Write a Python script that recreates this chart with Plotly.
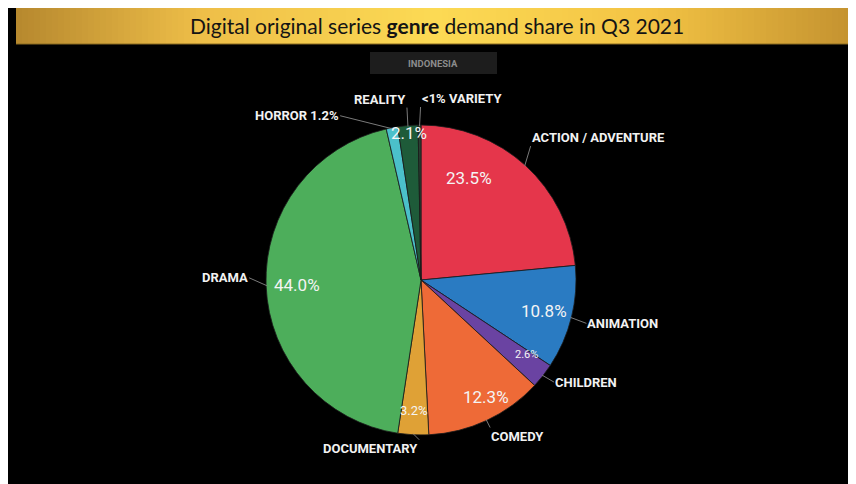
import plotly.graph_objects as go
import math

# ---------------- data ----------------
genres = ["ACTION / ADVENTURE", "ANIMATION", "CHILDREN", "COMEDY", "DOCUMENTARY",
          "DRAMA", "HORROR", "REALITY", "VARIETY"]
shares = [23.5, 10.8, 2.6, 12.3, 3.2, 44.0, 1.2, 2.1, 0.3]
pct_text = ["23.5%", "10.8%", "2.6%", "12.3%", "3.2%", "44.0%", "", "2.1%", ""]
name_text = ["ACTION / ADVENTURE", "ANIMATION", "CHILDREN", "COMEDY", "DOCUMENTARY",
             "DRAMA", "HORROR 1.2%", "REALITY", "<1% VARIETY"]
colors = ["#E5364B", "#2A7BC2", "#6A43A2", "#EE6A37", "#DFA136",
          "#4DAE5B", "#4BC0CA", "#1E5B39", "#2B3F33"]
title_html = "Digital original series <b>genre</b> demand share in Q3 2021"
subtitle = "INDONESIA"

# ---------------- geometry / style ----------------
W, H = 856, 484
OFF = 8  # page offset of the plot div
CX, CY, R = 421, 280, 155  # page coordinates
COND = "Roboto, sans-serif"


def px(x):
    return (x - OFF) / W


def py(y):
    return 1 - (y - OFF) / H


fig = go.Figure()
fig.add_trace(go.Pie(
    labels=genres, values=shares, sort=False, direction="clockwise", rotation=0,
    marker=dict(colors=colors, line=dict(color="#1a1a1a", width=0.8)),
    textinfo="none", hoverinfo="label+percent", showlegend=False,
    domain=dict(x=[px(CX - R), px(CX + R)], y=[py(CY + R), py(CY - R)]),
))

shapes = []
# gold gradient banner
stops = [(16, (182, 136, 46)), (200, (238, 190, 72)), (436, (252, 218, 84)),
         (650, (243, 195, 68)), (870, (192, 142, 46))]


def gold(x):
    for (x0, c0), (x1, c1) in zip(stops[:-1], stops[1:]):
        if x0 <= x <= x1:
            t = (x - x0) / (x1 - x0)
            c = [round(a + (b - a) * t) for a, b in zip(c0, c1)]
            return "rgb(%d,%d,%d)" % tuple(c)
    return "rgb(%d,%d,%d)" % stops[-1][1]


step = 6
x = 16
while x < 866:
    x2 = min(x + step, 866)
    shapes.append(dict(type="rect", xref="paper", yref="paper", x0=px(x), x1=px(x2) + 0.0008,
                       y0=py(44), y1=1, fillcolor=gold((x + x2) / 2), line=dict(width=0),
                       layer="below"))
    x = x2
shapes.append(dict(type="line", xref="paper", yref="paper", x0=px(16), x1=1, y0=py(44), y1=py(44),
                   line=dict(color="#8a6a20", width=1)))
# subtitle box
shapes.append(dict(type="rect", xref="paper", yref="paper", x0=px(370), x1=px(497), y0=py(74), y1=py(52),
                   fillcolor="#1d1d1d", line=dict(width=0)))

annotations = [
    dict(text=title_html, x=px(437), y=py(25), xref="paper", yref="paper", showarrow=False,
         font=dict(family="Lato", size=21, color="#141414"), xanchor="center", yanchor="middle"),
    dict(text="<b>%s</b>" % subtitle, x=px(433), y=py(63), xref="paper", yref="paper", showarrow=False,
         font=dict(family=COND, size=9.5, color="#8c8c8c"),
         xanchor="center", yanchor="middle"),
]

# slice mid-angles (clockwise from 12 o'clock) from the data
total = sum(shares)
mids = []
acc = 0
for v in shares:
    mids.append((acc + v / 2) / total * 2 * math.pi)
    acc += v


def edge(a, rr=R):
    return CX + rr * math.sin(a), CY - rr * math.cos(a)


# leader label placement: (ax, ay, xanchor, yanchor)
lead = [(6, -20, "left", "bottom"), (16, 6, "left", "middle"), (12, 7, "left", "middle"),
        (4, 8, "left", "top"), (6, 6, "right", "top"), (-18, -8, "right", "middle"),
        (-52, -13, "right", "middle"), (-1, -19, "right", "bottom"), (1, -19, "left", "bottom")]
for name, a, (ax, ay, xa, ya) in zip(name_text, mids, lead):
    ex, ey = edge(a, R - 1)
    annotations.append(dict(text="<b>%s</b>" % name, x=px(ex), y=py(ey), xref="paper", yref="paper",
                            showarrow=True, arrowhead=0, arrowwidth=1, arrowcolor="#7a7a7a",
                            ax=ax, ay=ay, xanchor=xa, yanchor=ya, borderpad=0,
                            font=dict(family=COND, size=13, color="#f2f2f2")))

# percentage label placement: (radius fraction, angle shift in degrees, font size)
pct_place = [(0.73, -17, 17), (0.82, 0, 17), (0.83, -3, 11), (0.86, -4, 17), (0.84, 0, 13),
             (0.80, 0, 17), (0.9, 0, 12), (0.95, 0, 17), (0.9, 0, 12)]
for t, a, (rf, da, fs) in zip(pct_text, mids, pct_place):
    if not t:
        continue
    x0, y0 = edge(a + math.radians(da), R * rf)
    annotations.append(dict(text=t, x=px(x0), y=py(y0), xref="paper", yref="paper", showarrow=False,
                            xanchor="center", yanchor="middle",
                            font=dict(family=COND, size=fs, color="#f4f4f4")))

fig.update_layout(
    width=W, height=H, margin=dict(l=0, r=0, t=0, b=0),
    paper_bgcolor="#000000", plot_bgcolor="#000000",
    shapes=shapes, annotations=annotations,
)
fig.write_html("out.html")
